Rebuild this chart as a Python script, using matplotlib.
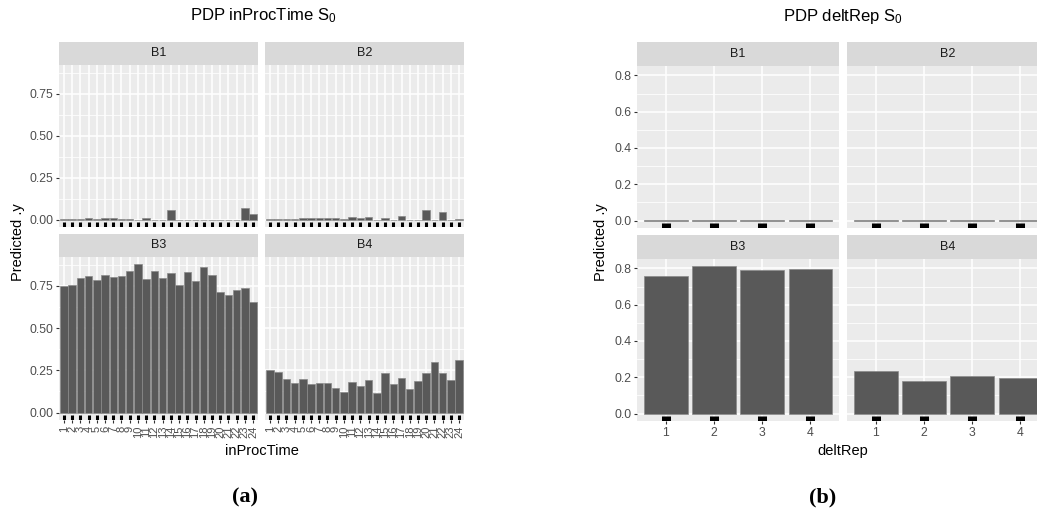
"""
PDP bar facets for inProcTime and deltRep (ggplot-like look)
"""

import numpy as np
import matplotlib
matplotlib.use("Agg")
import matplotlib.pyplot as plt

plt.rcParams['font.family'] = ['Liberation Sans', 'DejaVu Sans']
plt.rcParams['mathtext.fontset'] = 'custom'
plt.rcParams['mathtext.rm'] = 'Liberation Sans'
plt.rcParams['mathtext.default'] = 'regular'

#data
facets = ["B1", "B2", "B3", "B4"]

proc_levels = [str(i) for i in range(1, 25)]
proc_b1 = [0.001, 0.001, 0.003, 0.008, 0.006, 0.009, 0.009, 0.005, 0.005, 0.0, 0.012, 0.0,
           0.0, 0.060, 0.0, 0.0, 0.0, 0.0, 0.0, 0.0, 0.0, 0.0, 0.070, 0.035]
proc_b2 = [0.001, 0.004, 0.004, 0.004, 0.008, 0.008, 0.010, 0.009, 0.010, 0.004, 0.016, 0.010,
           0.016, 0.0, 0.010, 0.0, 0.020, 0.0, 0.0, 0.060, 0.0, 0.045, 0.0, 0.004]
proc_b3 = [0.750, 0.754, 0.794, 0.810, 0.784, 0.816, 0.804, 0.808, 0.837, 0.877, 0.790, 0.840,
           0.794, 0.828, 0.758, 0.832, 0.778, 0.863, 0.816, 0.712, 0.698, 0.724, 0.736, 0.652]
proc_b4 = [0.251, 0.243, 0.201, 0.177, 0.201, 0.169, 0.175, 0.177, 0.145, 0.121, 0.183, 0.155,
           0.193, 0.115, 0.233, 0.171, 0.207, 0.139, 0.187, 0.233, 0.302, 0.235, 0.195, 0.314]

rep_levels = ["1", "2", "3", "4"]
rep_b1 = [0.002, 0.002, 0.001, 0.002]
rep_b2 = [0.003, 0.003, 0.002, 0.003]
rep_b3 = [0.756, 0.811, 0.793, 0.798]
rep_b4 = [0.235, 0.182, 0.206, 0.195]

proc_ticks = [0.0, 0.25, 0.5, 0.75]
proc_ticklabels = ["0.00", "0.25", "0.50", "0.75"]
rep_ticks = [0.0, 0.2, 0.4, 0.6, 0.8]
rep_ticklabels = ["0.0", "0.2", "0.4", "0.6", "0.8"]

W, H = 1037, 513
fig = plt.figure(figsize=(W / 100, H / 100), dpi=100)

PANEL_BG = "#EBEBEB"
STRIP_BG = "#D9D9D9"
BAR_COL = "#595959"
TICK_COL = "#4D4D4D"


def px_axes(x0, y0, x1, y1):
    #pixel box (top-left origin) to figure axes
    return fig.add_axes([x0 / W, 1 - y1 / H, (x1 - x0) / W, (y1 - y0) / H])


def draw_facet(box, strip_h, name, levels, values, ylim, yticks, yticklabels,
               show_x, show_y, rot, xsize, rug_lw):
    x0, y0, x1, y1 = box
    strip = px_axes(x0, y0 - strip_h, x1, y0)
    strip.set_facecolor(STRIP_BG)
    strip.set_xticks([])
    strip.set_yticks([])
    for s in strip.spines.values():
        s.set_visible(False)
    strip.text(0.5, 0.5, name, ha='center', va='center', fontsize=9, color="#1A1A1A",
               transform=strip.transAxes)

    ax = px_axes(x0, y0, x1, y1)
    ax.set_facecolor(PANEL_BG)
    for s in ax.spines.values():
        s.set_visible(False)
    pos = np.arange(1, len(levels) + 1)
    ax.set_xlim(0.4, len(levels) + 0.6)
    ax.set_ylim(*ylim)

    #grid
    ax.set_axisbelow(True)
    ax.set_xticks(pos)
    ax.set_yticks(yticks)
    step = yticks[1] - yticks[0]
    minor = [t + step / 2 for t in yticks if t + step / 2 < ylim[1]]
    ax.set_yticks(minor, minor=True)
    ax.grid(True, which='major', color='white', lw=1.1)
    ax.grid(True, which='minor', axis='y', color='white', lw=0.55)

    ax.bar(pos, values, width=0.9, color=BAR_COL, edgecolor="#8a8a8a", lw=0.5, zorder=2)

    #rug-like marks at the bottom
    ax.vlines(pos, 0, 0.033, transform=ax.get_xaxis_transform(), color='black',
              lw=rug_lw, zorder=3)

    ax.tick_params(axis='both', which='major', length=2.5, width=0.8, color="#333333",
                   labelsize=8.8, labelcolor=TICK_COL, pad=1.5)
    ax.tick_params(axis='y', which='minor', length=0)
    if show_x:
        ax.set_xticklabels(levels, rotation=rot, va='top', ha='center', fontsize=xsize)
    else:
        ax.tick_params(axis='x', length=0, labelbottom=False)
    if show_y:
        ax.set_yticklabels(yticklabels)
    else:
        ax.tick_params(axis='y', length=0, labelleft=False)
    return ax


#panel (a)
proc_sets = [proc_b1, proc_b2, proc_b3, proc_b4]
ymax = max(max(v) for v in proc_sets)
ylim_a = (-0.05 * ymax, 1.05 * ymax)
boxes_a = [(59, 65, 258, 227), (265, 65, 464, 227), (59, 257, 258, 420), (265, 257, 464, 420)]
for i, (name, vals) in enumerate(zip(facets, proc_sets)):
    draw_facet(boxes_a[i], 23, name, proc_levels, vals, ylim_a, proc_ticks, proc_ticklabels,
               show_x=i >= 2, show_y=i % 2 == 0, rot=90, xsize=8, rug_lw=2.2)

#panel (b)
rep_sets = [rep_b1, rep_b2, rep_b3, rep_b4]
ymax = max(max(v) for v in rep_sets)
ylim_b = (-0.05 * ymax, 1.05 * ymax)
boxes_b = [(637, 66, 839, 228), (847, 66, 1049, 228), (637, 259, 839, 421), (847, 259, 1049, 421)]
for i, (name, vals) in enumerate(zip(facets, rep_sets)):
    draw_facet(boxes_b[i], 24, name, rep_levels, vals, ylim_b, rep_ticks, rep_ticklabels,
               show_x=i >= 2, show_y=i % 2 == 0, rot=0, xsize=8.8, rug_lw=6.5)

#titles and labels
fig.text(263 / W, 1 - 16 / H, "PDP inProcTime S$_0$", ha='center', va='center', fontsize=12)
fig.text(843 / W, 1 - 16 / H, "PDP deltRep S$_0$", ha='center', va='center', fontsize=12)
fig.text(18 / W, 1 - 242 / H, "Predicted .y", rotation=90, ha='center', va='center', fontsize=10.5)
fig.text(601 / W, 1 - 242 / H, "Predicted .y", rotation=90, ha='center', va='center', fontsize=10.5)
fig.text(262 / W, 1 - 451 / H, "inProcTime", ha='center', va='center', fontsize=10.5)
fig.text(843 / W, 1 - 451 / H, "deltRep", ha='center', va='center', fontsize=10.5)
fig.text(245 / W, 1 - 497 / H, "(a)", ha='center', va='center', fontsize=16,
         fontweight='bold', family=['Liberation Serif', 'DejaVu Serif'])
fig.text(823 / W, 1 - 497 / H, "(b)", ha='center', va='center', fontsize=16,
         fontweight='bold', family=['Liberation Serif', 'DejaVu Serif'])

fig.savefig("out.png", dpi=100)
